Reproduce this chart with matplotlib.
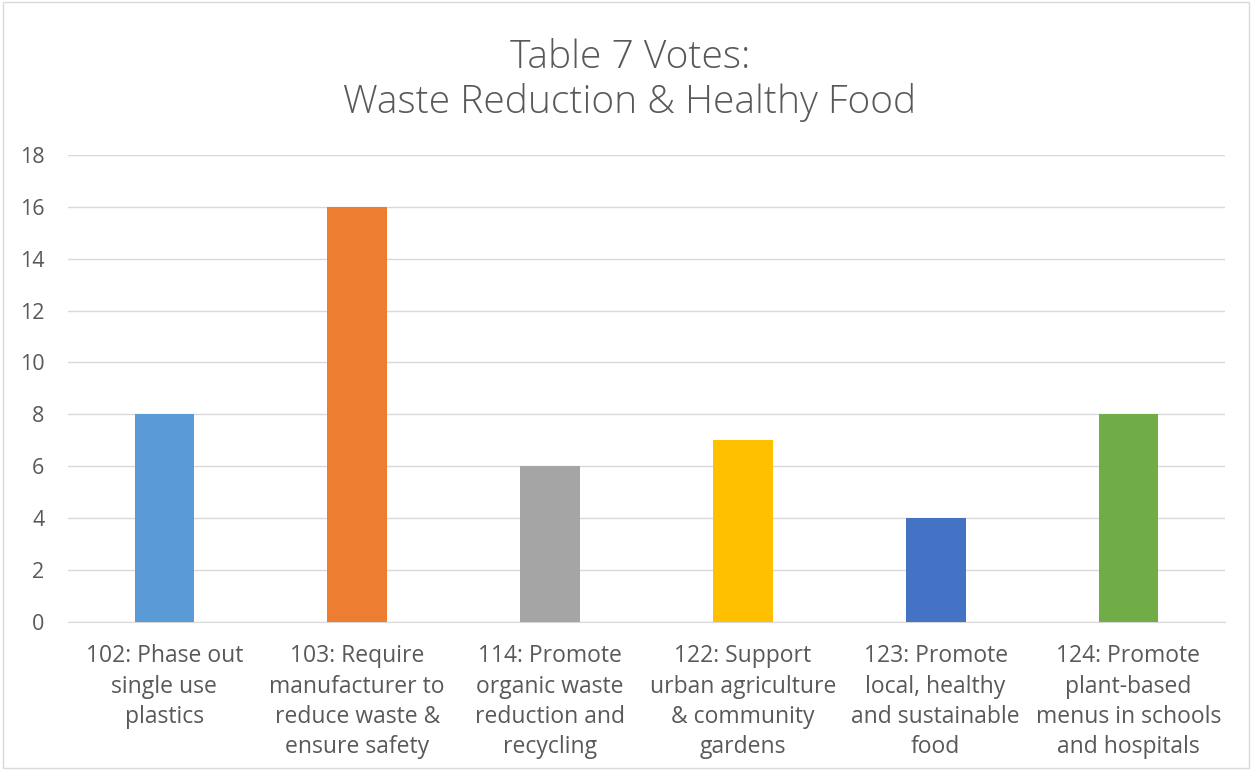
import matplotlib
matplotlib.use("Agg")
import matplotlib.pyplot as plt
import numpy as np

plt.rcParams["font.family"] = ["Open Sans", "DejaVu Sans"]

categories = [
    "102: Phase out\nsingle use\nplastics",
    "103: Require\nmanufacturer to\nreduce waste &\nensure safety",
    "114: Promote\norganic waste\nreduction and\nrecycling",
    "122: Support\nurban agriculture\n& community\ngardens",
    "123: Promote\nlocal, healthy\nand sustainable\nfood",
    "124: Promote\nplant-based\nmenus in schools\nand hospitals",
]
votes = [8, 16, 6, 7, 4, 8]
bar_colors = ["#5B9BD5", "#ED7D31", "#A5A5A5", "#FFC000", "#4472C4", "#70AD47"]
yticks = [0, 2, 4, 6, 8, 10, 12, 14, 16, 18]

text_color = "#595959"

fig = plt.figure(figsize=(12.52, 7.7), dpi=100)
ax = fig.add_axes([0.0543, 0.192, 0.924, 0.607])

x = np.arange(len(categories))
ax.bar(x, votes, width=0.31, color=bar_colors, zorder=3)

ax.set_xlim(-0.5, len(categories) - 0.5)
ax.set_ylim(0, 18)
ax.set_yticks(yticks)
ax.set_xticks(x)
ax.set_xticklabels(categories, fontsize=16.5, color=text_color, linespacing=1.34, va="top")
ax.tick_params(axis="y", labelsize=15.5, colors=text_color, length=0, pad=17)
ax.tick_params(axis="x", length=0, pad=16)
ax.grid(axis="y", color="#D9D9D9", linewidth=1, zorder=0)
for s in ["top", "right", "left"]:
    ax.spines[s].set_visible(False)
ax.spines["bottom"].set_color("#D9D9D9")

fig.text(0.503, 0.8954, "Table 7 Votes:\nWaste Reduction & Healthy Food",
         ha="center", va="center", fontsize=28, color=text_color,
         linespacing=1.2, fontweight="light")

# light frame around the chart
fig.patches.append(plt.Rectangle((0.002, 0.002), 0.996, 0.996, transform=fig.transFigure,
                                 fill=False, edgecolor="#D9D9D9", linewidth=1))

fig.savefig("out.png", dpi=100)
